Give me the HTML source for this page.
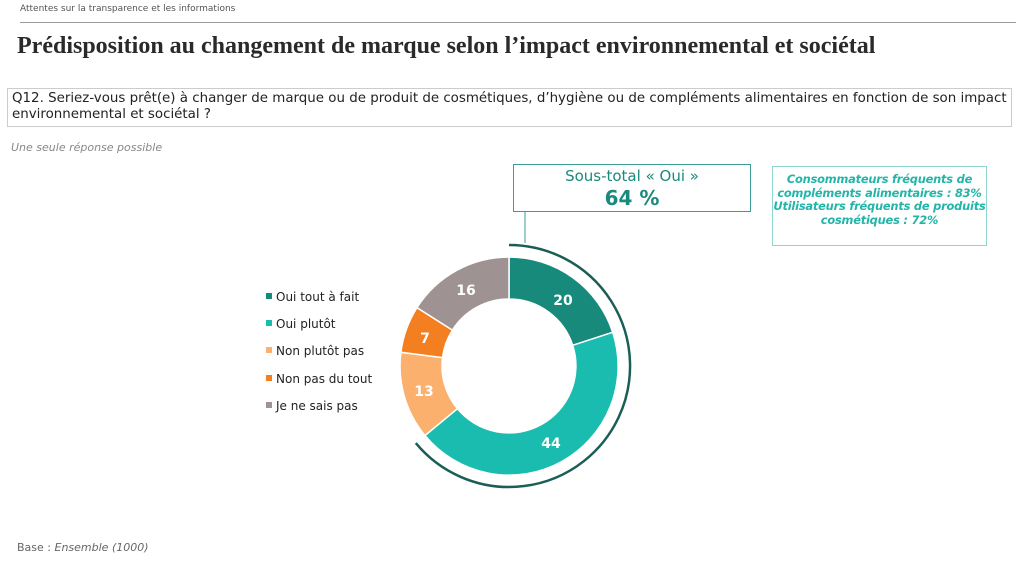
<!DOCTYPE html>
<html><head><meta charset="utf-8"><style>
body{margin:0;width:1024px;height:562px;background:#fff;position:relative;overflow:hidden;font-family:"DejaVu Sans","Liberation Sans",sans-serif}
.a{position:absolute}
</style></head><body>
<div class="a" style="left:20px;top:4px;font-size:9px;color:#555">Attentes sur la transparence et les informations</div>
<div class="a" style="left:20px;top:22px;width:996px;height:1px;background:#999"></div>
<div class="a" style="left:17px;top:33px;font-family:'Liberation Serif',serif;font-weight:bold;font-size:24px;color:#2a2a2a;white-space:nowrap">Prédisposition au changement de marque selon l’impact environnemental et sociétal</div>
<div class="a" style="left:7px;top:88px;width:1005px;height:39px;border:1px solid #ccc;box-sizing:border-box;padding:2px 4px;font-size:13.4px;line-height:16px;color:#222">Q12. Seriez-vous prêt(e) à changer de marque ou de produit de cosmétiques, d’hygiène ou de compléments alimentaires en fonction de son impact environnemental et sociétal ?</div>
<div class="a" style="left:11px;top:141px;font-size:11px;font-style:italic;color:#888">Une seule réponse possible</div>
<div class="a" style="left:513px;top:164px;width:238px;height:48px;border:1px solid #3a9e94;box-sizing:border-box;text-align:center;color:#1a8a7c">
<div style="font-size:15px;line-height:20px;margin-top:1px">Sous-total « Oui »</div>
<div style="font-size:20px;font-weight:bold;line-height:24px">64 %</div></div>
<div class="a" style="left:772px;top:166px;width:215px;height:80px;border:1px solid #8fd6cf;box-sizing:border-box;text-align:center;color:#22b5a8;font-size:11.4px;font-weight:bold;font-style:italic;line-height:13.5px;padding-top:6px;letter-spacing:-0.2px">Consommateurs fréquents de compléments alimentaires : 83%<br>Utilisateurs fréquents de produits cosmétiques : 72%</div>
<svg class="a" style="left:0;top:0" width="1024" height="562">
<line x1="525" y1="212" x2="525" y2="243" stroke="#3a9e94" stroke-width="1"/>
<g stroke="#fff" stroke-width="1.5">
<path d="M509 257 A109 109 0 0 1 612.7 332.3 L572.7 345.3 A67 67 0 0 0 509 299Z" fill="#178a7c"/>
<path d="M612.7 332.3 A109 109 0 0 1 425 435.5 L457.4 408.7 A67 67 0 0 0 572.7 345.3Z" fill="#1bbcb0"/>
<path d="M425 435.5 A109 109 0 0 1 400.9 352.3 L442.5 357.6 A67 67 0 0 0 457.4 408.7Z" fill="#fbb06e"/>
<path d="M400.9 352.3 A109 109 0 0 1 417 307.6 L452.4 330.1 A67 67 0 0 0 442.5 357.6Z" fill="#f47f20"/>
<path d="M417 307.6 A109 109 0 0 1 509 257 L509 299 A67 67 0 0 0 452.4 330.1Z" fill="#9e9292"/>
</g>
<path d="M509 245 A121 121 0 1 1 415.8 443.1" fill="none" stroke="#1a5e55" stroke-width="2.5"/>
<g fill="#fff" font-weight="bold" font-size="14" text-anchor="middle" font-family="DejaVu Sans,sans-serif">
<text x="563" y="305">20</text><text x="551" y="448">44</text><text x="424" y="396">13</text><text x="425" y="343">7</text><text x="466" y="295">16</text></g>
<g font-size="12" fill="#222" font-family="DejaVu Sans,sans-serif">
<rect x="266" y="293" width="6" height="6" fill="#178a7c"/><text x="276" y="301">Oui tout à fait</text>
<rect x="266" y="320" width="6" height="6" fill="#1bbcb0"/><text x="276" y="328">Oui plutôt</text>
<rect x="266" y="347" width="6" height="6" fill="#fbb06e"/><text x="276" y="355">Non plutôt pas</text>
<rect x="266" y="375" width="6" height="6" fill="#f47f20"/><text x="276" y="383">Non pas du tout</text>
<rect x="266" y="402" width="6" height="6" fill="#9e9292"/><text x="276" y="410">Je ne sais pas</text>
</g>
</svg>
<div class="a" style="left:17px;top:541px;font-size:11px;color:#666">Base : <i>Ensemble (1000)</i></div>
</body></html>
